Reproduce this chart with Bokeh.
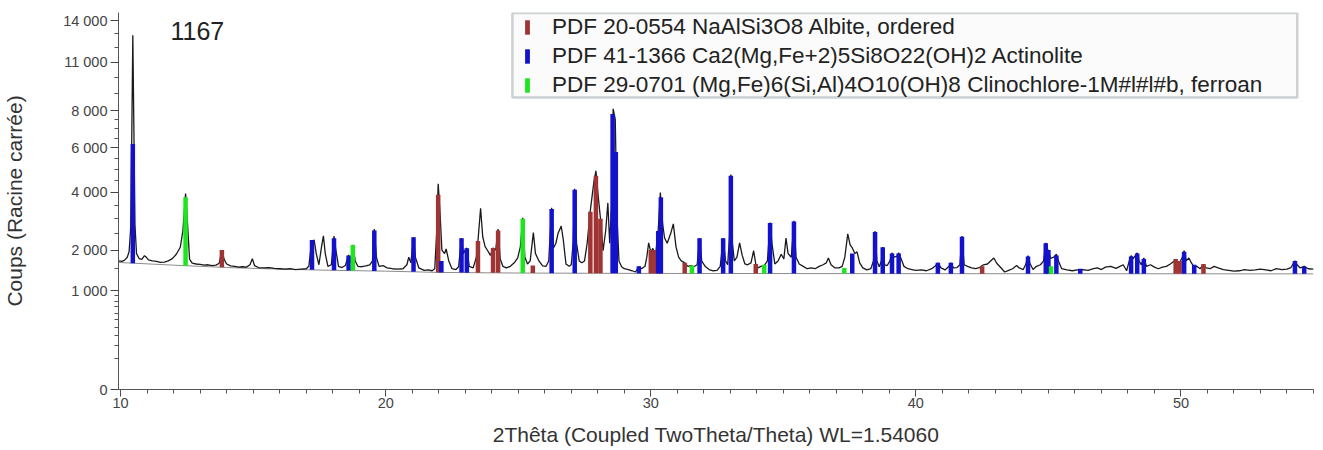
import numpy as np
from bokeh.plotting import figure
from bokeh.models import (Range1d, FixedTicker, SingleIntervalTicker, CustomJSTickFormatter,
                          Legend, LegendItem, Label, BoxAnnotation)
from bokeh.embed import file_html
from bokeh.resources import INLINE

# ---------------- data ----------------
two_theta = [
    9.92, 10.05, 10.15, 10.25, 10.32, 10.38, 10.42, 10.46, 10.50, 10.54, 10.60, 10.70, 10.80, 10.90, 10.97,
    11.05, 11.2, 11.35, 11.5, 11.65, 11.8, 11.95, 12.1, 12.25, 12.35, 12.45, 12.52, 12.6, 12.7, 12.85,
    13.0, 13.15, 13.3, 13.45, 13.6, 13.72, 13.82, 13.9, 14.0, 14.15, 14.3, 14.45, 14.6, 14.75, 14.88,
    14.97, 15.05, 15.2, 15.4, 15.6, 15.8, 16.0, 16.2, 16.4, 16.6, 16.8, 17.0, 17.1, 17.2, 17.3,
    17.38, 17.48, 17.58, 17.65, 17.72, 17.82, 17.95, 18.05, 18.12, 18.22, 18.35, 18.48, 18.6, 18.68, 18.76,
    18.85, 18.95, 19.1, 19.25, 19.4, 19.5, 19.57, 19.65, 19.75, 19.9, 20.05, 20.25, 20.45, 20.65, 20.8,
    20.87, 20.95, 21.05, 21.12, 21.25, 21.45, 21.6, 21.75, 21.85, 21.92, 21.98, 22.05, 22.12, 22.22, 22.28,
    22.38, 22.5, 22.65, 22.75, 22.86, 22.93, 23.0, 23.06, 23.15, 23.3, 23.42, 23.48, 23.58, 23.66, 23.75,
    23.85, 23.95, 24.05, 24.15, 24.24, 24.32, 24.42, 24.55, 24.7, 24.85, 24.98, 25.08, 25.17, 25.25, 25.35,
    25.45, 25.57, 25.65, 25.78, 25.92, 26.05, 26.15, 26.26, 26.33, 26.42, 26.5, 26.62, 26.7, 26.8, 26.92,
    27.0, 27.07, 27.13, 27.2, 27.3, 27.4, 27.5, 27.6, 27.72, 27.85, 27.93, 28.02, 28.1, 28.2, 28.3,
    28.38, 28.45, 28.52, 28.58, 28.66, 28.72, 28.8, 28.9, 29.0, 29.15, 29.3, 29.42, 29.55, 29.65, 29.78,
    29.85, 29.92, 30.0, 30.08, 30.17, 30.28, 30.36, 30.45, 30.52, 30.62, 30.75, 30.85, 30.95, 31.05, 31.15,
    31.28, 31.4, 31.52, 31.62, 31.75, 31.84, 31.92, 32.05, 32.2, 32.35, 32.5, 32.62, 32.73, 32.82, 32.9,
    32.97, 33.02, 33.08, 33.15, 33.25, 33.35, 33.45, 33.55, 33.65, 33.78, 33.88, 33.96, 34.05, 34.15, 34.28,
    34.4, 34.5, 34.57, 34.68, 34.8, 34.92, 35.02, 35.1, 35.18, 35.3, 35.4, 35.48, 35.6, 35.75, 35.9,
    36.05, 36.2, 36.35, 36.5, 36.62, 36.7, 36.8, 36.95, 37.1, 37.22, 37.32, 37.43, 37.52, 37.6, 37.7,
    37.78, 37.88, 38.0, 38.15, 38.3, 38.4, 38.46, 38.53, 38.62, 38.7, 38.75, 38.82, 38.92, 39.02, 39.1,
    39.18, 39.28, 39.35, 39.42, 39.55, 39.7, 39.85, 40.0, 40.2, 40.4, 40.6, 40.72, 40.83, 40.95, 41.1,
    41.25, 41.32, 41.42, 41.55, 41.66, 41.74, 41.82, 41.95, 42.1, 42.25, 42.4, 42.55, 42.7, 42.82, 42.94,
    43.05, 43.2, 43.35, 43.5, 43.65, 43.8, 43.9, 44.05, 44.15, 44.23, 44.3, 44.42, 44.55, 44.7, 44.82,
    44.9, 44.98, 45.08, 45.2, 45.3, 45.38, 45.5, 45.7, 45.9, 46.1, 46.3, 46.5, 46.7, 46.85, 47.0,
    47.15, 47.35, 47.55, 47.7, 47.82, 47.95, 48.05, 48.12, 48.2, 48.35, 48.42, 48.5, 48.6, 48.7, 48.85,
    49.0, 49.15, 49.3, 49.45, 49.6, 49.75, 49.85, 49.95, 50.05, 50.12, 50.2, 50.3, 50.4, 50.5, 50.6,
    50.72, 50.85, 50.95, 51.1, 51.25, 51.4, 51.6, 51.8, 52.0, 52.2, 52.4, 52.6, 52.8, 53.0, 53.2,
    53.4, 53.6, 53.8, 54.0, 54.15, 54.3, 54.38, 54.5, 54.65, 54.8, 55.0,
]
counts = [
    1700, 1690, 1720, 1800, 1950, 2700, 6500, 12900, 7000, 2800, 1900, 1760, 1740, 1840, 1800,
    1730, 1700, 1690, 1660, 1670, 1700, 1760, 1880, 2080, 2600, 3950, 2900, 1750, 1640, 1620,
    1610, 1590, 1600, 1580, 1590, 1640, 2000, 1750, 1620, 1570, 1560, 1540, 1550, 1540, 1600,
    1760, 1580, 1530, 1520, 1530, 1510, 1500, 1490, 1500, 1480, 1490, 1500, 1560, 2200, 2300,
    1900, 1600, 2100, 2430, 1900, 1560, 1600, 2420, 2000, 1560, 1530, 1580, 1860, 1650, 2150,
    1700, 1560, 1550, 1570, 1600, 1700, 2650, 1800, 1560, 1580, 1520, 1500, 1490, 1500, 1600,
    1800, 1650, 2390, 1800, 1520, 1460, 1470, 1450, 1500, 2500, 4350, 3200, 2000, 1900, 2030,
    1700, 1500, 1480, 1550, 2360, 1900, 2000, 2060, 1560, 1520, 1800, 2270, 3380, 2400, 2100,
    1980, 1850, 2060, 2000, 2650, 1750, 1560, 1520, 1560, 1650, 1780, 2100, 3030, 1800, 1620,
    1700, 2530, 1900, 1700, 1570, 1560, 1700, 3400, 2060, 2200, 2500, 2750, 2300, 1620, 1560,
    1600, 2200, 4140, 2200, 1700, 1650, 1700, 2200, 3300, 4400, 4920, 3800, 3030, 1980, 2600,
    3580, 2200, 3500, 8100, 7500, 3200, 1700, 1550, 1500, 1480, 1450, 1420, 1550, 1500, 1560,
    1800, 2210, 1950, 2050, 1800, 2600, 3990, 2800, 2360, 2200, 2500, 2820, 2100, 1800, 1700,
    1650, 1560, 1580, 1550, 1600, 2360, 1700, 1560, 1480, 1450, 1460, 1560, 2360, 1700, 1600,
    2400, 4750, 2200, 1700, 1800, 2210, 1850, 1620, 1600, 1650, 1980, 1620, 1520, 1560, 1580,
    1700, 2870, 2200, 1620, 1700, 1880, 1750, 2360, 1900, 1800, 2930, 1800, 1620, 1560, 1500,
    1520, 1500, 1560, 1600, 1650, 1780, 1600, 1520, 1520, 1560, 1800, 2490, 2150, 2060, 1900,
    1950, 1650, 1520, 1470, 1500, 1700, 2580, 1700, 1550, 1700, 2090, 1600, 1580, 1700, 1920,
    1800, 1820, 1920, 1800, 1560, 1500, 1480, 1460, 1470, 1450, 1500, 1560, 1650, 1520, 1470,
    1560, 1650, 1520, 1530, 1600, 2420, 1600, 1560, 1520, 1500, 1530, 1600, 1620, 1700, 1780,
    1640, 1530, 1420, 1460, 1500, 1580, 1520, 1480, 1620, 1840, 1640, 1480, 1560, 1600, 1700,
    2210, 2000, 1770, 1800, 1880, 1700, 1500, 1470, 1450, 1470, 1480, 1460, 1500, 1520, 1480,
    1540, 1560, 1510, 1560, 1600, 1450, 1700, 1840, 1760, 1920, 1700, 1600, 1780, 1560, 1600,
    1540, 1500, 1540, 1560, 1620, 1700, 1700, 1650, 1800, 1980, 1700, 1780, 1640, 1540, 1560,
    1500, 1600, 1520, 1500, 1560, 1520, 1480, 1460, 1440, 1450, 1480, 1460, 1470, 1490, 1470,
    1450, 1500, 1480, 1490, 1530, 1700, 1600, 1520, 1560, 1500, 1490,
]
bg_theta = [9.92, 12.0, 14.0, 16.0, 18.0, 20.0, 22.0, 25.0, 30.0, 40.0, 55.0]
bg_counts = [1660, 1590, 1530, 1490, 1460, 1440, 1410, 1395, 1385, 1380, 1375]

albite_pos = [13.82, 21.98, 23.48, 24.05, 24.24, 25.55, 27.72, 27.93, 28.1, 30.0, 30.17,
              31.28, 33.96, 42.5, 49.8, 49.95, 50.85]
albite_int = [2000, 3900, 2270, 2060, 2600, 1580, 3250, 4700, 3000, 2000, 2000,
              1650, 1620, 1560, 1750, 1700, 1620]
actinolite_pos = [10.46, 17.22, 18.05, 18.6, 19.57, 21.05, 22.1, 22.86, 23.06, 26.26, 27.13,
                  28.56, 28.68, 29.55, 30.28, 30.38, 31.84, 32.73, 33.02, 34.5, 35.4, 37.6,
                  38.46, 38.75, 39.1, 39.35, 40.83, 41.32, 41.74, 44.23, 44.9, 45.0, 45.3,
                  46.2, 48.12, 48.35, 48.6, 50.12, 50.5, 54.3, 54.65]
actinolite_int = [6200, 2300, 2350, 1850, 2600, 2380, 1700, 2350, 2050, 3350, 4100,
                  7800, 5800, 1560, 2580, 3800, 2350, 2350, 4700, 2850, 2900, 1900,
                  2550, 2080, 1900, 1900, 1650, 1650, 2400, 1820, 2200, 2000, 1850,
                  1500, 1820, 1900, 1750, 1950, 1600, 1700, 1550]
clino_pos = [12.45, 18.76, 25.17, 31.55, 34.28, 37.3, 45.1]
clino_int = [3800, 2150, 3000, 1580, 1600, 1520, 1560]

phase_labels = [
    "PDF 20-0554 NaAlSi3O8 Albite, ordered",
    "PDF 41-1366 Ca2(Mg,Fe+2)5Si8O22(OH)2 Actinolite",
    "PDF 29-0701 (Mg,Fe)6(Si,Al)4O10(OH)8 Clinochlore-1M#l#l#b, ferroan",
]
y_tick_values = [0, 1000, 2000, 4000, 6000, 8000, 11000, 14000]
y_minor_values = [100, 200, 300, 400, 500, 600, 700, 800, 900, 1500, 2500, 3000, 3500,
                  4500, 5000, 5500, 6500, 7000, 7500, 9000, 10000, 12000, 13000]

# ---------------- figure ----------------
FONT = "Liberation Sans"
p = figure(width=1315, height=448, x_range=Range1d(9.92, 55.0), y_range=Range1d(0, 120.9),
           output_backend="svg", toolbar_location=None,
           min_border_left=118, min_border_right=2, min_border_top=12, min_border_bottom=59)
p.outline_line_color = None
p.xgrid.visible = False
p.ygrid.visible = False
p.background_fill_color = "white"

# background curve and measured pattern (square-root intensity scale)
p.line(bg_theta, np.sqrt(bg_counts), line_color="#8c8c8c", line_width=1)
p.line(two_theta, np.sqrt(counts), line_color="#1a1a1a", line_width=1.3)

def sticks(pos, inten, color):
    base = np.sqrt(np.interp(pos, bg_theta, bg_counts))
    return p.vbar(x=pos, width=0.17, bottom=base, top=np.sqrt(inten),
                  fill_color=color, line_color=None)

r_alb = sticks(albite_pos, albite_int, "#9e3434")
r_act = sticks(actinolite_pos, actinolite_int, "#1212cc")
r_cli = sticks(clino_pos, clino_int, "#1ee61e")

# axes
p.xaxis.ticker = SingleIntervalTicker(interval=10, num_minor_ticks=10)
p.yaxis.ticker = FixedTicker(ticks=list(np.sqrt(y_tick_values)),
                             minor_ticks=list(np.sqrt(y_minor_values)))
p.yaxis.formatter = CustomJSTickFormatter(code="""
    const v = Math.round(tick * tick / 1000) * 1000;
    if (v == 0) { return '0'; }
    return (v / 1000) + ' 000';
""")
for ax in (p.xaxis[0], p.yaxis[0]):
    ax.axis_line_color = "#555555"
    ax.major_tick_line_color = "#444444"
    ax.minor_tick_line_color = "#555555"
    ax.major_tick_in = 0
    ax.minor_tick_in = 0
    ax.major_label_text_font = FONT
    ax.major_label_text_font_size = "14.5px"
    ax.major_label_text_color = "#444444"
    ax.axis_label_text_font = FONT
    ax.axis_label_text_font_size = "21px"
    ax.axis_label_text_font_style = "normal"
    ax.axis_label_text_color = "#333333"
p.xaxis.major_tick_out = 7
p.xaxis.minor_tick_out = 4
p.yaxis.major_tick_out = 8
p.yaxis.minor_tick_out = 4
p.xaxis.major_label_standoff = 1
p.yaxis.major_label_standoff = 3
p.xaxis.axis_label = "2Thêta (Coupled TwoTheta/Theta) WL=1.54060"
p.yaxis.axis_label = "Coups (Racine carrée)"
p.xaxis.axis_label_standoff = 12
p.yaxis.axis_label_standoff = 34

# sample number
p.add_layout(Label(x=11.88, y=115.1, text="1167", text_font=FONT, text_font_size="25px",
                   text_baseline="middle", text_color="#222222"))

# legend frame + legend
p.add_layout(BoxAnnotation(left=24.78, right=54.39, bottom=93.65, top=120.7,
                           fill_color="#fbfbfb", fill_alpha=1.0,
                           line_color="#5f6a74", line_width=2.5))
legend = Legend(items=[LegendItem(label=phase_labels[0], renderers=[r_alb]),
                       LegendItem(label=phase_labels[1], renderers=[r_act]),
                       LegendItem(label=phase_labels[2], renderers=[r_cli])],
                location=(406, 291), glyph_width=6, glyph_height=18, label_height=23,
                spacing=3, padding=0, margin=0, label_standoff=22,
                label_text_font=FONT, label_text_font_size="22.5px", label_text_color="#222222",
                border_line_color=None, background_fill_alpha=0)
p.add_layout(legend)

open("out.html", "w").write(file_html(p, INLINE))
